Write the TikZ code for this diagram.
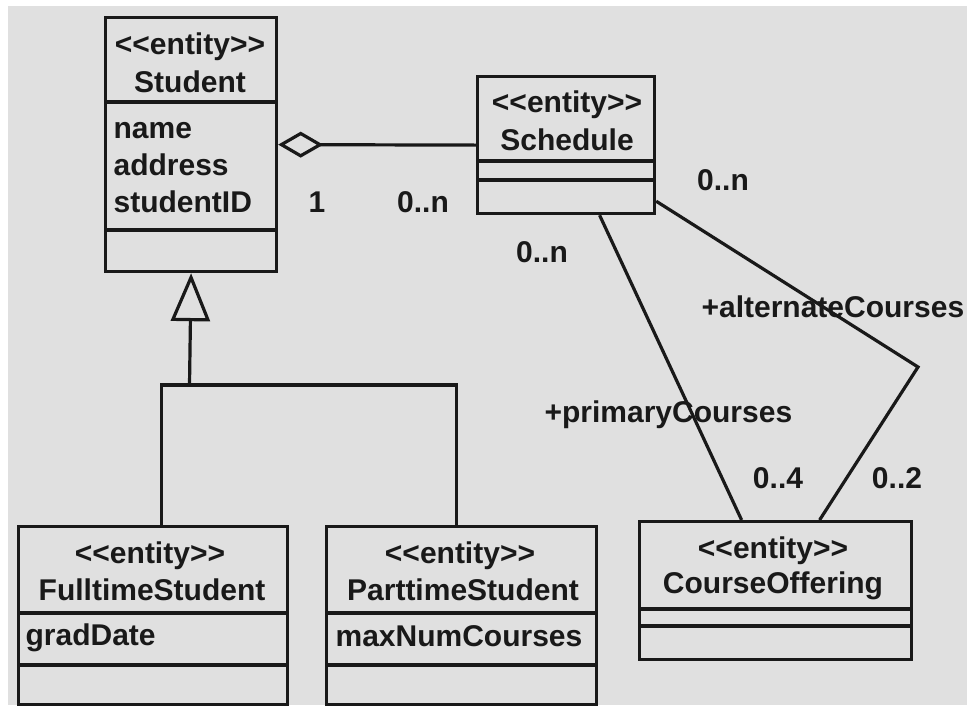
\documentclass[tikz,border=0pt]{standalone}
\usepackage{fontspec}
\setmainfont{Liberation Sans}[Ligatures=TeXOff]
\usetikzlibrary{arrows.meta}
\definecolor{bgc}{RGB}{224,224,224}
\definecolor{ink}{RGB}{25,25,25}
\newcommand{\umlfont}{\fontsize{30}{36}\selectfont\bfseries}
\begin{document}
\begin{tikzpicture}[x=1pt,y=-1pt,color=ink,line width=3.2pt,
  classbox/.style={draw=ink,line width=3.2pt,inner sep=0pt,anchor=north west},
  ttl/.style={font=\umlfont,text=ink,inner sep=0pt,anchor=base},
  attr/.style={font=\umlfont,text=ink,inner sep=0pt,anchor=base west},
  lbl/.style={font=\umlfont,text=ink,inner sep=0pt,anchor=base}]
\useasboundingbox (0,0) rectangle (967,705);
\fill[white] (0,0) rectangle (967,705);
\fill[bgc] (8,6) rectangle (967,705);

% Student
\node[classbox,minimum width=171pt,minimum height=254pt] (student) at (104,16) {};
\node[ttl] (studentS) at (190,54) {<<entity>>};
\node[ttl] (studentN) at (190,92) {Student};
\node[attr] (studentA1) at (112,138) {name};
\node[attr] (studentA2) at (112,175) {address};
\node[attr] (studentA3) at (112,212) {studentID};
\draw (104,102) -- (275,102);
\draw (104,230) -- (275,230);

% Schedule
\node[classbox,minimum width=177pt,minimum height=137pt] (sched) at (476,75) {};
\node[ttl] (schedS) at (567,112) {<<entity>>};
\node[ttl] (schedN) at (567,150) {Schedule};
\draw (476,161) -- (653,161);
\draw (476,180) -- (653,180);

% FulltimeStudent
\node[classbox,minimum width=269pt,minimum height=178pt] (ft) at (17,525) {};
\node[ttl] (ftS) at (150,563) {<<entity>>};
\node[ttl] (ftN) at (152,600) {FulltimeStudent};
\node[attr] (ftA) at (24,645) {gradDate};
\draw (17,613) -- (286,613);
\draw (17,665) -- (286,665);

% ParttimeStudent
\node[classbox,minimum width=270pt,minimum height=178pt] (pt) at (325,525) {};
\node[ttl] (ptS) at (460,563) {<<entity>>};
\node[ttl] (ptN) at (463,600) {ParttimeStudent};
\node[attr] (ptA) at (334,646) {maxNumCourses};
\draw (325,613) -- (595,613);
\draw (325,665) -- (595,665);

% CourseOffering
\node[classbox,minimum width=272pt,minimum height=138pt] (co) at (638,520) {};
\node[ttl] (coS) at (773,558) {<<entity>>};
\node[ttl] (coN) at (773,593) {CourseOffering};
\draw (638,609) -- (910,609);
\draw (638,626) -- (910,626);

% aggregation
\draw[{Diamond[open,length=45pt,width=26pt]}-] (student.east) -- (sched.west);
\node[lbl] (m1) at (317,212) {1};
\node[lbl] (m2) at (423,212) {0..n};

% generalization
\coordinate (j) at (189.5,385);
\draw[-{Triangle[open,length=48pt,width=39pt]}] (j) -- (student.south);
\draw[line join=miter] ([xshift=8.5pt]ft.north) |- (j) -| ([xshift=-5pt]pt.north);

% primary courses
\draw ([xshift=33.5pt]sched.south) -- ([xshift=-34pt]co.north);
\node[lbl] (m3) at (542,262) {0..n};
\node[attr] (r1) at (543,422) {+primaryCourses};
\node[lbl] (m4) at (778,488) {0..4};

% alternate courses
\coordinate (alt) at (918,367);
\draw[line join=miter] ([yshift=14pt]sched.south east) -- (alt) -- ([xshift=44pt]co.north);
\node[lbl] (m5) at (723,190) {0..n};
\node[attr] (r2) at (700,317) {+alternateCourses};
\node[lbl] (m6) at (897,488) {0..2};
\end{tikzpicture}
\end{document}
